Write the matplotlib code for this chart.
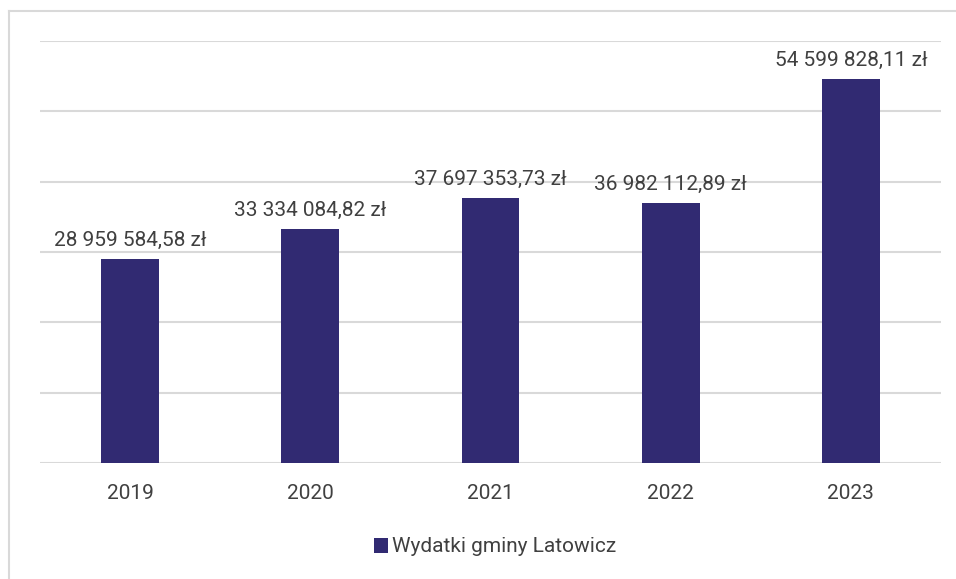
import matplotlib.pyplot as plt
import numpy as np
from matplotlib.lines import Line2D

plt.rcParams['font.family'] = ['Roboto', 'DejaVu Sans']

years = ['2019', '2020', '2021', '2022', '2023']
wydatki = [28959584.58, 33334084.82, 37697353.73, 36982112.89, 54599828.11]
labels = ['28 959 584,58 zł', '33 334 084,82 zł', '37 697 353,73 zł',
          '36 982 112,89 zł', '54 599 828,11 zł']
series_name = 'Wydatki gminy Latowicz'

bar_color = '#312a72'
text_color = '#404040'
grid_color = '#d9d9d9'

fig = plt.figure(figsize=(9.56, 5.79), dpi=100)
ax = fig.add_axes([40 / 956, 1 - 463 / 579, 901 / 956, (463 - 41) / 579])

x = np.arange(len(years))
bars = ax.bar(x, wydatki, width=0.32, color=bar_color, label=series_name, zorder=3)

for xi, v, lab in zip(x, wydatki, labels):
    ax.text(xi, v + 1.3e6, lab, ha='center', va='bottom', fontsize=15, color=text_color)

ax.set_xlim(-0.5, len(years) - 0.5)
ax.set_ylim(0, 60e6)
ax.set_yticks(np.arange(0, 60e6 + 1, 10e6))
ax.set_yticklabels([])
ax.yaxis.grid(True, color=grid_color, linewidth=1.5, zorder=0)
ax.tick_params(axis='y', length=0)
ax.tick_params(axis='x', length=0, pad=15, labelsize=15, labelcolor=text_color)
ax.set_xticks(x)
ax.set_xticklabels(years)
for s in ax.spines.values():
    s.set_visible(False)

# chart frame (top and left edges)
fig.add_artist(Line2D([9 / 956, 1], [1 - 11 / 579, 1 - 11 / 579], color=grid_color, lw=1.5))
fig.add_artist(Line2D([9 / 956, 9 / 956], [0, 1 - 11 / 579], color=grid_color, lw=1.5))

fig.legend(handles=[bars], labels=[series_name], loc='center', bbox_to_anchor=(0.518, 1 - 547 / 579),
           frameon=False, fontsize=15, handlelength=0.7, handleheight=0.7, handletextpad=0.2,
           labelcolor=text_color)

fig.savefig('out.png', dpi=100)
